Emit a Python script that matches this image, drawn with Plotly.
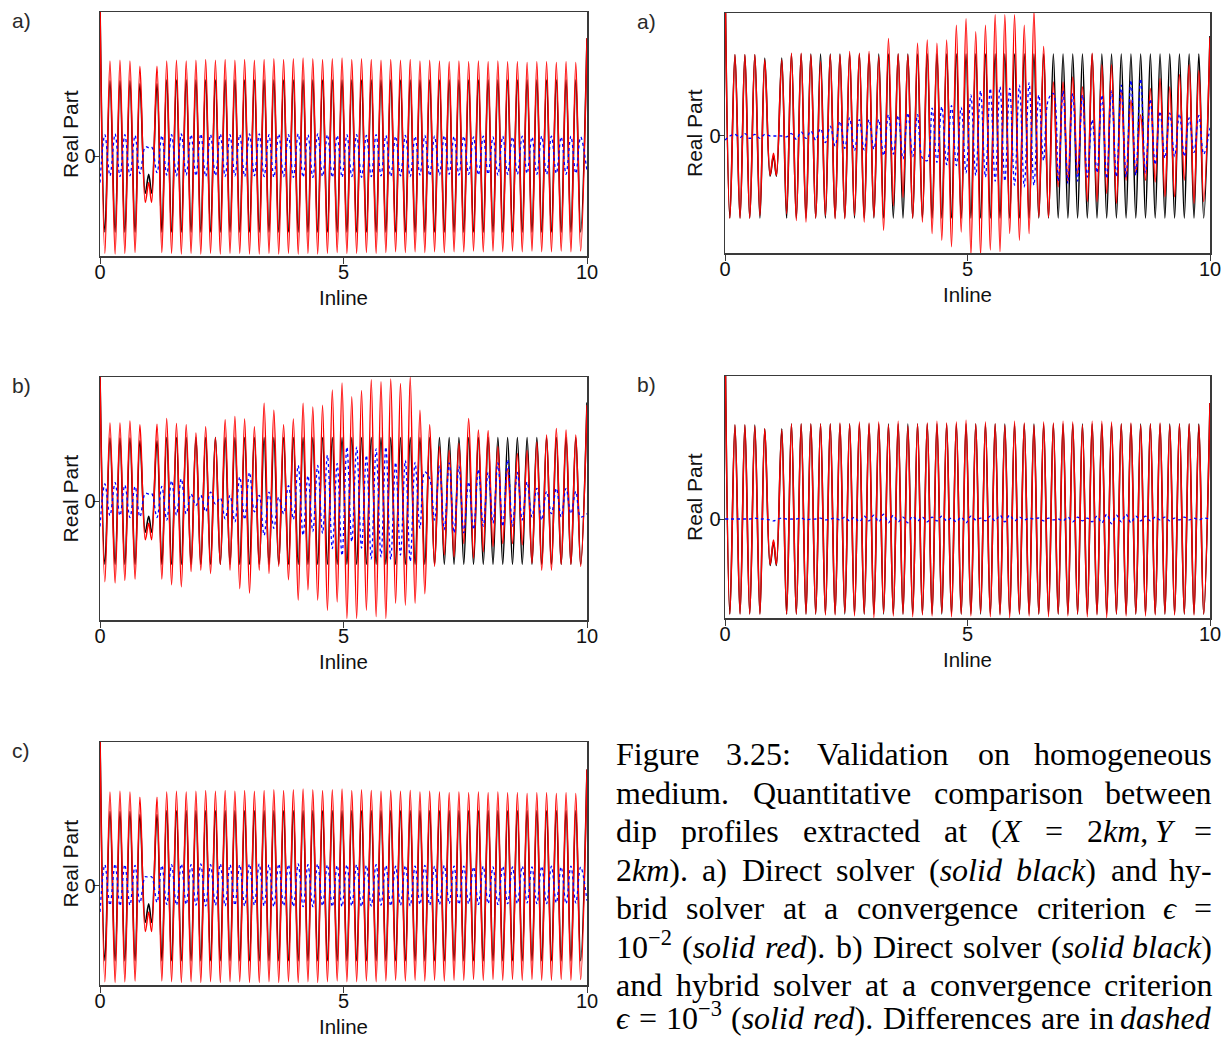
import re
import plotly.graph_objects as go

W, H = 1231, 1038
OX, OY = 8, 8  # page offset of the figure inside the browser window

# ---------------- data ----------------
# Inline positions of the successive extrema of the dip profiles
X_EXT = [0.0, 0.10, 0.205, 0.31, 0.41, 0.51, 0.615, 0.72, 0.82, 0.93, 1.0, 1.06,
         1.17, 1.27, 1.37, 1.47, 1.57, 1.67, 1.77, 1.87, 1.97, 2.07,
         2.17, 2.27, 2.37, 2.47, 2.57, 2.67, 2.77, 2.87, 2.97, 3.07,
         3.17, 3.27, 3.37, 3.47, 3.57, 3.67, 3.77, 3.87, 3.97, 4.07,
         4.17, 4.27, 4.37, 4.47, 4.57, 4.67, 4.77, 4.87, 4.97, 5.07,
         5.17, 5.27, 5.37, 5.47, 5.57, 5.67, 5.77, 5.87, 5.97, 6.07,
         6.17, 6.27, 6.37, 6.47, 6.57, 6.67, 6.77, 6.87, 6.97, 7.07,
         7.17, 7.27, 7.37, 7.47, 7.57, 7.67, 7.77, 7.87, 7.97, 8.07,
         8.17, 8.27, 8.37, 8.47, 8.57, 8.67, 8.77, 8.87, 8.97, 9.07,
         9.17, 9.27, 9.37, 9.47, 9.57, 9.67, 9.77, 9.87, 10.0]

# Direct solver (solid black)
BLACK_LEFT = [2.0, -1.0, 0.99, -1.0, 0.99, -1.0, 0.99, -1.0, 0.95, -0.49, -0.24, -0.49,
              0.95, -1.0, 1.0, -1.0, 1.0, -1.0, 1.0, -1.0, 1.0, -1.0,
              1.0, -1.0, 1.0, -1.0, 1.0, -1.0, 1.0, -1.0, 1.0, -1.0,
              1.0, -1.0, 1.0, -1.0, 1.0, -1.0, 1.0, -1.0, 1.0, -1.0,
              1.0, -1.0, 1.0, -1.0, 1.0, -1.0, 1.0, -1.0, 1.0, -1.0,
              1.0, -1.0, 1.0, -1.0, 1.0, -1.0, 1.0, -1.0, 1.0, -1.0,
              1.0, -1.0, 1.0, -1.0, 1.0, -1.0, 1.0, -1.0, 1.0, -1.0,
              1.0, -1.0, 1.0, -1.0, 1.0, -1.0, 1.0, -1.0, 1.0, -1.0,
              1.0, -1.0, 1.0, -1.0, 1.0, -1.0, 1.0, -1.0, 1.0, -1.0,
              1.0, -1.0, 1.0, -1.0, 1.0, -1.0, 1.0, -1.0, 1.55]
BLACK_RIGHT = [2.0, -1.0, 0.99, -1.0, 0.99, -1.0, 0.99, -1.0, 0.95, -0.49, -0.24, -0.49,
               0.95, -1.0, 1.0, -1.0, 1.0, -1.0, 1.0, -1.0, 1.0, -1.0,
               1.0, -1.0, 1.0, -1.0, 1.0, -1.0, 1.0, -1.0, 1.0, -1.0,
               1.0, -1.0, 1.0, -1.0, 1.0, -1.0, 1.0, -1.0, 1.0, -1.0,
               1.0, -1.0, 1.0, -1.0, 1.0, -1.0, 1.0, -1.0, 1.0, -1.0,
               1.0, -1.0, 1.0, -1.0, 1.0, -1.0, 1.0, -1.0, 1.0, -1.0,
               1.0, -1.0, 1.0, -1.0, 1.0, -1.0, 1.0, -1.0, 1.0, -1.0,
               1.0, -1.0, 1.0, -1.0, 1.0, -1.0, 1.0, -1.0, 1.0, -1.0,
               1.0, -1.0, 1.0, -1.0, 1.0, -1.0, 1.0, -1.0, 1.0, -1.0,
               1.0, -1.0, 1.0, -1.0, 1.0, -1.0, 1.0, -1.0, 1.22]

# Hybrid solver (solid red) and differences (dashed blue), left column a)
RED_A_LEFT = [2.0, -1.28, 1.25, -1.29, 1.26, -1.28, 1.25, -1.27, 1.18, -0.61, -0.35, -0.61,
              1.18, -1.27, 1.25, -1.28, 1.26, -1.29, 1.25, -1.28, 1.26, -1.29,
              1.27, -1.28, 1.26, -1.29, 1.27, -1.28, 1.26, -1.28, 1.27, -1.29,
              1.26, -1.29, 1.27, -1.28, 1.28, -1.29, 1.27, -1.28, 1.28, -1.29,
              1.29, -1.28, 1.28, -1.29, 1.27, -1.28, 1.28, -1.27, 1.29, -1.28,
              1.27, -1.28, 1.28, -1.27, 1.27, -1.28, 1.26, -1.27, 1.27, -1.26,
              1.26, -1.27, 1.27, -1.26, 1.25, -1.27, 1.26, -1.26, 1.25, -1.27,
              1.24, -1.26, 1.25, -1.26, 1.24, -1.25, 1.25, -1.26, 1.24, -1.25,
              1.25, -1.26, 1.24, -1.25, 1.24, -1.26, 1.23, -1.25, 1.24, -1.26,
              1.24, -1.26, 1.23, -1.25, 1.24, -1.26, 1.23, -1.25, 1.55]
BLUE_A_LEFT = [-0.35, 0.28, -0.26, 0.29, -0.27, 0.28, -0.26, 0.27, -0.23, 0.12, 0.11, 0.12,
               -0.22, 0.27, -0.25, 0.28, -0.26, 0.29, -0.25, 0.28, -0.26, 0.29,
               -0.27, 0.28, -0.26, 0.29, -0.27, 0.28, -0.26, 0.28, -0.27, 0.29,
               -0.26, 0.29, -0.27, 0.28, -0.28, 0.29, -0.27, 0.28, -0.28, 0.29,
               -0.28, 0.28, -0.28, 0.29, -0.27, 0.28, -0.28, 0.27, -0.28, 0.28,
               -0.27, 0.28, -0.28, 0.27, -0.27, 0.28, -0.26, 0.27, -0.27, 0.26,
               -0.26, 0.27, -0.27, 0.26, -0.25, 0.27, -0.26, 0.26, -0.25, 0.27,
               -0.24, 0.26, -0.25, 0.26, -0.24, 0.25, -0.25, 0.26, -0.24, 0.25,
               -0.25, 0.26, -0.24, 0.25, -0.24, 0.26, -0.23, 0.25, -0.24, 0.26,
               -0.24, 0.26, -0.23, 0.25, -0.24, 0.26, -0.23, 0.25, -0.2]

# left column b)
RED_B_LEFT = [2.0, -1.27, 1.23, -1.29, 1.23, -1.25, 1.26, -1.23, 1.20, -0.61, -0.35, -0.61,
              1.21, -1.23, 1.30, -1.32, 1.22, -1.35, 1.20, -1.11, 1.07, -1.09,
              1.17, -1.14, 1.0, -1.0, 1.28, -1.09, 1.33, -1.38, 1.29, -1.45,
              1.17, -1.09, 1.54, -1.14, 1.43, -1.03, 1.20, -1.24, 1.29, -1.56,
              1.54, -1.40, 1.48, -1.56, 1.51, -1.72, 1.75, -1.59, 1.86, -1.85,
              1.64, -1.85, 1.74, -1.72, 1.91, -1.82, 1.88, -1.85, 1.92, -1.61,
              1.85, -1.64, 1.95, -1.61, 1.43, -1.46, 1.20, -1.03, 0.86, -0.85,
              0.80, -0.88, 0.91, -0.67, 1.30, -0.90, 1.12, -0.80, 1.11, -0.72,
              0.86, -0.67, 0.51, -0.67, 0.75, -0.69, 0.80, -0.98, 0.93, -1.09,
              1.04, -1.09, 1.14, -1.0, 1.12, -1.0, 1.04, -1.03, 1.51]
BLUE_B_LEFT = [-0.4, 0.27, -0.23, 0.29, -0.23, 0.25, -0.26, 0.23, -0.25, 0.12, 0.11, 0.12,
               -0.26, 0.23, -0.30, 0.32, -0.22, 0.35, -0.20, 0.11, -0.07, 0.09,
               -0.17, 0.14, -0.05, 0.05, -0.28, 0.09, -0.33, 0.38, -0.29, 0.45,
               -0.17, 0.09, -0.54, 0.14, -0.43, 0.06, -0.20, 0.24, -0.29, 0.56,
               -0.54, 0.40, -0.48, 0.56, -0.51, 0.72, -0.75, 0.59, -0.86, 0.85,
               -0.64, 0.85, -0.74, 0.72, -0.91, 0.82, -0.88, 0.85, -0.92, 0.61,
               -0.85, 0.64, -0.95, 0.61, -0.43, 0.46, 0.35, -0.30, 0.55, -0.45,
               0.60, -0.50, 0.55, -0.50, 0.30, -0.45, 0.50, -0.40, 0.45, -0.35,
               0.60, -0.40, 0.65, -0.40, 0.45, -0.30, 0.30, -0.25, 0.20, -0.30,
               0.15, -0.20, 0.20, -0.25, 0.20, -0.20, 0.15, -0.25, -0.2]

# right column a)
RED_A_RIGHT = [2.0, -1.0, 0.99, -1.0, 0.99, -1.0, 0.99, -0.97, 0.93, -0.48, -0.21, -0.48,
               0.93, -0.95, 1.01, -1.03, 1.01, -1.05, 0.99, -1.0, 0.91, -0.97,
               0.99, -1.01, 0.99, -1.01, 1.03, -0.97, 1.01, -1.05, 1.03, -0.99,
               0.97, -1.15, 1.19, -0.85, 1.0, -0.75, 0.99, -1.0, 1.13, -1.05,
               1.17, -1.19, 1.13, -1.27, 1.17, -1.35, 1.35, -1.17, 1.43, -1.45,
               1.27, -1.45, 1.35, -1.39, 1.48, -1.41, 1.48, -1.19, 1.48, -1.27,
               1.35, -1.19, 1.52, -0.99, 1.09, -0.99, 0.66, -0.62, 0.66, -0.56,
               0.72, -0.46, 0.60, -0.80, 1.01, -0.80, 0.87, -0.70, 0.87, -0.82,
               0.55, -0.54, 0.44, -0.46, 0.26, -0.54, 0.58, -0.56, 0.70, -0.74,
               0.60, -0.74, 0.75, -0.54, 0.87, -0.82, 0.80, -0.80, 1.2]
BLUE_A_RIGHT = [-0.05, 0.0, 0.02, -0.02, 0.03, -0.03, 0.02, -0.03, 0.02, 0.0, 0.0, 0.0,
                0.0, -0.01, 0.03, -0.04, 0.05, -0.03, 0.06, -0.05, 0.09, -0.08,
                0.12, -0.12, 0.18, -0.15, 0.22, -0.18, 0.20, -0.17, 0.20, -0.16,
                0.20, -0.24, 0.26, -0.22, 0.25, -0.28, 0.28, -0.25, 0.26, -0.27,
                -0.30, 0.34, -0.32, 0.36, -0.35, 0.37, -0.36, 0.35, -0.45, 0.50,
                -0.48, 0.55, -0.50, 0.58, -0.55, 0.60, -0.55, 0.58, -0.60, 0.62,
                -0.62, 0.65, -0.60, 0.50, -0.30, 0.45, 0.52, -0.55, 0.55, -0.58,
                0.52, -0.55, 0.50, -0.50, 0.20, -0.45, 0.50, -0.52, 0.55, -0.50,
                0.62, -0.50, 0.68, -0.48, 0.70, -0.45, 0.45, -0.35, 0.30, -0.27,
                0.28, -0.25, 0.27, -0.25, 0.22, -0.20, 0.25, -0.22, 0.1]

# right column b)
RED_B_RIGHT = [2.0, -1.0, 0.99, -1.0, 0.99, -1.0, 0.98, -1.0, 0.95, -0.48, -0.22, -0.48,
               0.94, -1.0, 1.0, -1.0, 1.0, -1.0, 1.0, -1.0, 1.0, -1.01,
               1.0, -1.01, 1.01, -0.99, 1.0, -1.02, 1.02, -1.0, 1.01, -1.04,
               1.02, -0.99, 0.99, -1.02, 1.03, -1.0, 0.98, -1.03, 1.0, -1.01,
               1.01, -1.02, 1.03, -0.99, 1.01, -1.03, 1.02, -1.0, 1.04, -1.02,
               1.0, -0.99, 1.02, -1.03, 1.0, -1.01, 0.99, -1.04, 1.03, -1.0,
               1.01, -1.02, 0.99, -1.0, 1.02, -1.03, 1.01, -1.0, 1.03, -1.02,
               1.02, -1.0, 0.99, -1.03, 1.03, -1.01, 1.03, -1.04, 1.02, -1.0,
               1.0, -1.02, 1.01, -1.0, 0.99, -1.02, 1.0, -1.01, 1.01, -1.0,
               0.99, -1.01, 1.0, -1.0, 1.0, -1.01, 0.99, -1.0, 1.22]
BLUE_B_RIGHT = [0.0, 0.0, 0.0, 0.0, 0.0, 0.0, 0.01, 0.0, 0.0, -0.01, -0.02, -0.01,
                0.01, 0.0, 0.0, 0.0, 0.01, -0.01, 0.0, 0.0, 0.01, -0.01,
                0.0, 0.01, -0.01, 0.02, -0.02, 0.02, -0.03, 0.03, -0.02, 0.04,
                -0.03, 0.05, -0.04, 0.04, -0.03, 0.02, -0.04, 0.03, -0.02, 0.02,
                -0.03, 0.02, -0.02, 0.03, -0.02, 0.01, -0.03, 0.02, -0.04, 0.03,
                -0.01, 0.01, -0.02, 0.03, -0.02, 0.04, -0.03, 0.04, -0.02, 0.02,
                -0.01, 0.01, 0.0, 0.01, -0.02, 0.01, -0.01, 0.0, -0.02, 0.02,
                -0.03, 0.02, -0.02, 0.01, -0.03, 0.03, -0.04, 0.05, -0.05, 0.04,
                -0.03, 0.05, -0.04, 0.03, -0.02, 0.03, -0.02, 0.02, -0.01, 0.02,
                -0.02, 0.01, -0.01, 0.02, -0.01, 0.01, -0.01, 0.01, 0.0]

# left column c)
RED_C = RED_A_LEFT
BLUE_C = BLUE_A_LEFT

X_TICKS = [0, 5, 10]
Y_TICKS = [0]
X_TITLE = "Inline"
Y_TITLE = "Real Part"

# ---------------- layout (pixel boxes of each panel) ----------------
PANELS = [
    dict(label="a)", box=(100, 12, 587, 256), yr=(-1.316, 1.895), black=BLACK_LEFT, red=RED_A_LEFT, blue=BLUE_A_LEFT),
    dict(label="a)", box=(725, 13, 1210, 253), yr=(-1.427, 1.50), black=BLACK_RIGHT, red=RED_A_RIGHT, blue=BLUE_A_RIGHT),
    dict(label="b)", box=(100, 377, 587, 620), yr=(-1.874, 1.953), black=BLACK_LEFT, red=RED_B_LEFT, blue=BLUE_B_LEFT),
    dict(label="b)", box=(725, 376, 1210, 618), yr=(-1.042, 1.505), black=BLACK_RIGHT, red=RED_B_RIGHT, blue=BLUE_B_RIGHT),
    dict(label="c)", box=(100, 742, 587, 985), yr=(-1.324, 1.916), black=BLACK_LEFT, red=RED_C, blue=BLUE_C),
]


def px(x):
    return (x - OX) / W


def py(y):
    return 1 - (y - OY) / H


fig = go.Figure()
annotations = []
SANS = "Liberation Sans, Arial, sans-serif"
AX_FONT = dict(family=SANS, size=20, color="#111")
LINE_COL = "#3a3a3a"

for i, p in enumerate(PANELS):
    n = i + 1
    xs = "" if n == 1 else str(n)
    x0, y0, x1, y1 = p["box"]
    for series, col, dash, wid in ((p["black"], "black", "solid", 1.6),
                                   (p["red"], "#ff0000", "solid", 1.5),
                                   (p["blue"], "#0000ff", "dot", 1.3)):
        fig.add_trace(go.Scatter(
            x=X_EXT, y=series, mode="lines", xaxis="x" + xs, yaxis="y" + xs,
            line=dict(color=col, width=wid, dash=dash, shape="spline", smoothing=1.0),
            hoverinfo="skip", showlegend=False))
    fig.layout["xaxis" + xs] = dict(
        domain=[px(x0), px(x1)], range=[0, 10], anchor="y" + xs,
        tickmode="array", tickvals=X_TICKS, ticktext=[str(t) for t in X_TICKS],
        ticks="outside", ticklen=6, tickwidth=1, tickcolor=LINE_COL, ticklabelstandoff=-9,
        showline=True, mirror=True, linecolor=LINE_COL, linewidth=1.5,
        showgrid=False, zeroline=False, tickfont=AX_FONT, fixedrange=True)
    fig.layout["yaxis" + xs] = dict(
        domain=[py(y1), py(y0)], range=list(p["yr"]), anchor="x" + xs,
        tickmode="array", tickvals=Y_TICKS, ticktext=[str(t) for t in Y_TICKS],
        ticks="outside", ticklen=6, tickwidth=1, tickcolor=LINE_COL, ticklabelstandoff=-7,
        showline=True, mirror=True, linecolor=LINE_COL, linewidth=1.5,
        showgrid=False, zeroline=False, tickfont=AX_FONT, fixedrange=True)
    # axis titles
    annotations.append(dict(x=px((x0 + x1) / 2), y=py(y1 + 41), xref="paper", yref="paper",
                            text=X_TITLE, showarrow=False, xanchor="center", yanchor="middle",
                            font=dict(family=SANS, size=20.5, color="#111")))
    annotations.append(dict(x=px(x0 - 30), y=py((y0 + y1) / 2), xref="paper", yref="paper",
                            text=Y_TITLE, showarrow=False, textangle=-90,
                            xanchor="center", yanchor="middle",
                            font=dict(family=SANS, size=21, color="#111")))
    # panel label (top of its text box just at the top of the page for the first row)
    annotations.append(dict(x=px(x0 - 79), y=py(max(y0 - 4, OY)), xref="paper", yref="paper",
                            text=p["label"], showarrow=False, xanchor="center", yanchor="top",
                            borderpad=0, font=dict(family=SANS, size=21, color="#2a2a2a")))

# ---------------- caption (justified between two margins) ----------------
CAPTION = [
    ["Figure", "3.25:", "Validation", "on", "homogeneous"],
    ["medium.", "Quantitative", "comparison", "between"],
    ["dip", "profiles", "extracted", "at", "(<i>X</i>", "=", "2<i>km</i>,\u2009<i>Y</i>", "="],
    ["2<i>km</i>).", "a)", "Direct", "solver", "(<i>solid</i>", "<i>black</i>)", "and", "hy-"],
    ["brid", "solver", "at", "a", "convergence", "criterion", "<i>ϵ</i>", "="],
    ["10<sup>−2</sup>", "(<i>solid</i>", "<i>red</i>).", "b)", "Direct", "solver", "(<i>solid</i>", "<i>black</i>)"],
    ["and", "hybrid", "solver", "at", "a", "convergence", "criterion"],
    ["<i>ϵ</i>", "=", "10<sup>−3</sup>", "(<i>solid</i>", "<i>red</i>).", "Differences", "are", "in", "<i>dashed</i>"],
]
LINE_MID = [755, 793.5, 832, 870.5, 909, 947.5, 986, 1024.5]
LEFT_EDGE, RIGHT_EDGE = 615, 1213
PAGE_BOTTOM = 1037
CAP_SIZE = 32
CAP_FONT = dict(family="Liberation Serif, Times New Roman, serif", size=CAP_SIZE, color="#000")

# Times / Liberation Serif advance widths (1/1000 em) used to space the words
ROMAN = {"(": 333, ")": 333, ".": 250, ",": 250, ":": 278, "=": 564, "−": 564, "-": 333,
         "\u2009": 170,
         "F": 556, "V": 722, "Q": 722, "D": 722, "a": 444, "b": 500, "c": 444, "d": 500,
         "e": 444, "f": 333, "g": 500, "h": 500, "i": 278, "k": 500, "l": 278, "m": 778,
         "n": 500, "o": 500, "p": 500, "q": 500, "r": 333, "s": 389, "t": 278, "u": 500,
         "v": 500, "w": 722, "x": 500, "y": 500}
ITALIC = {"a": 500, "b": 500, "c": 444, "d": 500, "e": 444, "h": 500, "i": 278, "k": 444,
          "l": 278, "m": 722, "o": 500, "r": 389, "s": 389, "X": 611, "Y": 556, "ϵ": 440}


def word_width(html, size):
    italic, sup, total = False, False, 0.0
    for part in re.split(r"(<[^>]+>)", html):
        if part.startswith("<"):
            tag = part.strip("</>")
            closing = part.startswith("</")
            if tag == "i":
                italic = not closing
            elif tag == "sup":
                sup = not closing
            continue
        for ch in part:
            table = ITALIC if italic else ROMAN
            w = table.get(ch, ROMAN.get(ch, 500))
            total += w / 1000.0 * size * (0.7 if sup else 1.0)
    return total


for li, words in enumerate(CAPTION):
    widths = [word_width(w, CAP_SIZE) for w in words]
    gap = (RIGHT_EDGE - LEFT_EDGE - sum(widths)) / (len(words) - 1)
    xcur = LEFT_EDGE
    bottom = min(LINE_MID[li] + 18, PAGE_BOTTOM)
    for wi, (txt, wd) in enumerate(zip(words, widths)):
        last = wi == len(words) - 1
        annotations.append(dict(
            x=px(RIGHT_EDGE if last else xcur), y=py(bottom),
            xref="paper", yref="paper", text=txt, showarrow=False,
            xanchor="right" if last else "left", yanchor="bottom",
            borderpad=0, font=CAP_FONT))
        xcur += wd + gap

fig.update_layout(
    width=W, height=H, autosize=False,
    margin=dict(l=0, r=0, t=0, b=0),
    paper_bgcolor="white", plot_bgcolor="white",
    showlegend=False, annotations=annotations,
    template="none",
)

fig.write_html("out.html", config=dict(displayModeBar=False, staticPlot=True))
